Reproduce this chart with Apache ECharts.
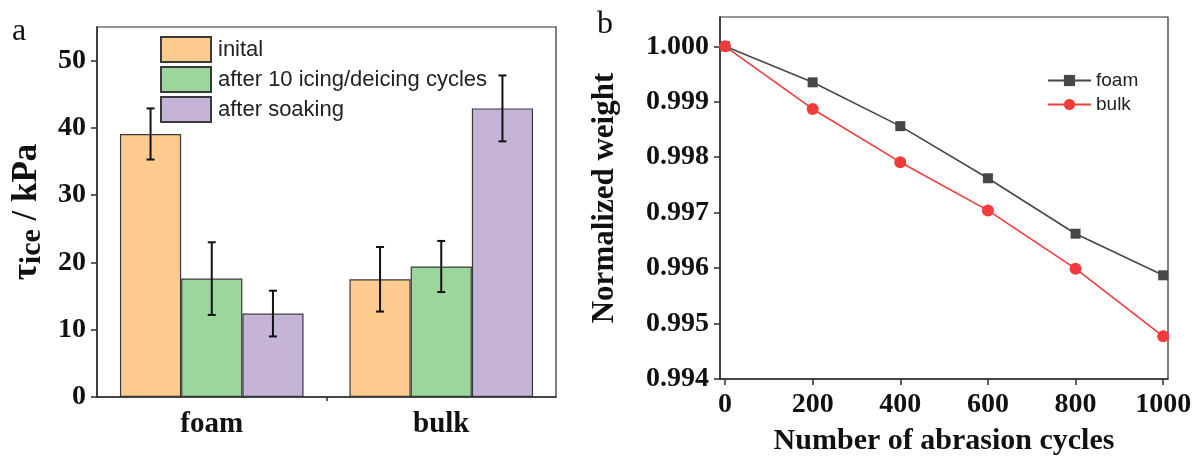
<!DOCTYPE html>
<html>
<head>
<meta charset="utf-8">
<script src="https://cdn.jsdelivr.net/npm/echarts@6/dist/echarts.min.js"></script>
<style>
  html, body { margin: 0; padding: 0; background: #fff; }
  #chart { width: 1196px; height: 462px; }
</style>
</head>
<body>
<div id="chart"></div>
<script>
// Panel a: ice adhesion strength (kPa), mean and error half-width
const categories = ['foam', 'bulk'];
const barSeriesNames = ['inital', 'after 10 icing/deicing cycles', 'after soaking'];
const initialVals = [39.1, 17.5];
const initialErr = [3.8, 4.8];
const cycledVals = [17.6, 19.4];
const cycledErr = [5.4, 3.8];
const soakedVals = [12.4, 42.9];
const soakedErr = [3.4, 4.9];
const tauTicks = [0, 10, 20, 30, 40, 50];

// Panel b: normalized weight vs abrasion cycles
const abrasionCycles = [0, 200, 400, 600, 800, 1000];
const foamWeight = [1.0000, 0.99935, 0.99856, 0.99762, 0.99662, 0.99587];
const bulkWeight = [1.0000, 0.99887, 0.99791, 0.99704, 0.99599, 0.99477];
const weightTicks = [0.994, 0.995, 0.996, 0.997, 0.998, 0.999, 1.000];

const SERIF = "'Liberation Serif', 'Times New Roman', serif";
const SANS = "'Liberation Sans', Arial, sans-serif";
const AXIS_COLOR = '#2b2b2b';
const barColors = ['#FDCB8E', '#9DD69C', '#C5B4D8'];

const chart = echarts.init(document.getElementById('chart'), null, { renderer: 'canvas' });

const barGroups = [
  { vals: initialVals, err: initialErr },
  { vals: cycledVals, err: cycledErr },
  { vals: soakedVals, err: soakedErr }
];

// error bar rows: [categoryIndex, seriesIndex, low, high]
const errRows = [];
barGroups.forEach((g, s) => {
  g.vals.forEach((v, c) => {
    errRows.push([c, s, v - g.err[c], v + g.err[c]]);
  });
});

function renderErrorBar(params, api) {
  const c = api.value(0);
  const s = api.value(1);
  const band = api.size([1, 0])[0];
  const bw = band * 0.8 / 3;
  const x = api.coord([c, 0])[0] + (s - 1) * bw;
  const yTop = api.coord([c, api.value(3)])[1];
  const yBot = api.coord([c, api.value(2)])[1];
  const cap = 4;
  const st = { stroke: '#111', lineWidth: 2 };
  return {
    type: 'group',
    children: [
      { type: 'line', shape: { x1: x, y1: yTop, x2: x, y2: yBot }, style: st },
      { type: 'line', shape: { x1: x - cap, y1: yTop, x2: x + cap, y2: yTop }, style: st },
      { type: 'line', shape: { x1: x - cap, y1: yBot, x2: x + cap, y2: yBot }, style: st }
    ]
  };
}

const tickLabelStyle = {
  color: '#111', fontFamily: SERIF, fontWeight: 'bold', fontSize: 27
};

const option = {
  backgroundColor: '#fff',
  animation: false,
  title: [
    { text: 'a', left: 12, top: 16, padding: 0, textStyle: { fontFamily: SERIF, fontWeight: 'normal', fontSize: 32, color: '#111' } },
    { text: 'b', left: 597, top: 9, padding: 0, textStyle: { fontFamily: SERIF, fontWeight: 'normal', fontSize: 32, color: '#111' } }
  ],
  legend: [
    {
      orient: 'vertical',
      left: 160, top: 36, padding: 0,
      itemWidth: 50, itemHeight: 25, itemGap: 3,
      icon: 'rect',
      data: barSeriesNames,
      textStyle: { fontFamily: SANS, fontSize: 22, color: '#222', padding: [0, 0, 0, 2] }
    },
    {
      orient: 'vertical',
      left: 1047, top: 71, padding: 0,
      itemWidth: 43, itemHeight: 14, itemGap: 5,
      data: ['foam', 'bulk'],
      textStyle: { fontFamily: SANS, fontSize: 19, color: '#222' }
    }
  ],
  grid: [
    { left: 97, top: 27, right: 640, bottom: 65, show: true, borderColor: AXIS_COLOR, borderWidth: 1.2, outerBoundsMode: 'none' },
    { left: 720, top: 17, right: 28, bottom: 83, show: true, borderColor: AXIS_COLOR, borderWidth: 1.2, outerBoundsMode: 'none' }
  ],
  xAxis: [
    {
      type: 'category', gridIndex: 0, data: categories,
      axisLine: { lineStyle: { color: AXIS_COLOR, width: 1.5 } },
      axisTick: { alignWithLabel: true, length: 6, inside: false, lineStyle: { color: AXIS_COLOR, width: 1.5 } },
      axisLabel: Object.assign({ margin: 13 }, tickLabelStyle, { fontSize: 29 }),
      splitLine: { show: false }
    },
    {
      // minor tick between the two groups
      type: 'value', gridIndex: 0, min: 0, max: 2, position: 'bottom',
      axisLine: { show: false },
      axisTick: { show: true, customValues: [1], length: 4, lineStyle: { color: AXIS_COLOR, width: 1.5 } },
      axisLabel: { show: false },
      splitLine: { show: false }
    },
    {
      type: 'value', gridIndex: 1, min: -11.5, max: 1011,
      name: 'Number of abrasion cycles', nameLocation: 'middle', nameGap: 47,
      nameTextStyle: { fontFamily: SERIF, fontWeight: 'bold', fontSize: 30, color: '#111' },
      axisLine: { onZero: false, lineStyle: { color: AXIS_COLOR, width: 1.5 } },
      axisTick: { customValues: abrasionCycles, length: 6, lineStyle: { color: AXIS_COLOR, width: 1.5 } },
      axisLabel: Object.assign({ customValues: abrasionCycles, margin: 12, formatter: v => String(v) }, tickLabelStyle, { fontSize: 28 }),
      splitLine: { show: false }
    }
  ],
  yAxis: [
    {
      type: 'value', gridIndex: 0, min: 0, max: 55,
      name: '{t|τ}{s|ice}{t| / kPa}', nameLocation: 'middle', nameRotate: 90, nameGap: 50,
      nameTextStyle: {
        rich: {
          t: { fontFamily: SERIF, fontWeight: 'bold', fontSize: 35, color: '#111', lineHeight: 40, verticalAlign: 'middle' },
          s: { fontFamily: SERIF, fontWeight: 'bold', fontSize: 30, color: '#111', lineHeight: 26, verticalAlign: 'bottom' }
        }
      },
      axisLine: { show: true, lineStyle: { color: AXIS_COLOR, width: 1.5 } },
      axisTick: { show: true, customValues: tauTicks, length: 6, lineStyle: { color: AXIS_COLOR, width: 1.5 } },
      axisLabel: Object.assign({ customValues: tauTicks, margin: 11 }, tickLabelStyle, { fontSize: 28 }),
      splitLine: { show: false }
    },
    {
      type: 'value', gridIndex: 1, min: 0.994, max: 1.000528,
      name: 'Normalized weight', nameLocation: 'middle', nameRotate: 90, nameGap: 100,
      nameTextStyle: { fontFamily: SERIF, fontWeight: 'bold', fontSize: 31, color: '#111' },
      axisLine: { show: true, onZero: false, lineStyle: { color: AXIS_COLOR, width: 1.5 } },
      axisTick: { show: true, customValues: weightTicks, length: 6, lineStyle: { color: AXIS_COLOR, width: 1.5 } },
      axisLabel: Object.assign({ customValues: weightTicks, margin: 11, formatter: v => v.toFixed(3) }, tickLabelStyle, { fontSize: 28 }),
      splitLine: { show: false }
    }
  ],
  series: [
    ...barGroups.map((g, i) => ({
      name: barSeriesNames[i],
      type: 'bar', xAxisIndex: 0, yAxisIndex: 0,
      data: g.vals,
      barGap: '0%', barCategoryGap: '20%',
      itemStyle: { color: barColors[i], borderColor: '#3a3a3a', borderWidth: 1.2 }
    })),
    {
      name: 'error', type: 'custom', xAxisIndex: 0, yAxisIndex: 0,
      data: errRows, encode: { x: 0, y: [2, 3] },
      renderItem: renderErrorBar, z: 5, silent: true
    },
    {
      name: 'foam', type: 'line', xAxisIndex: 2, yAxisIndex: 1,
      data: abrasionCycles.map((x, i) => [x, foamWeight[i]]),
      symbol: 'rect', symbolSize: 10,
      lineStyle: { color: '#474747', width: 1.6 },
      itemStyle: { color: '#474747' }
    },
    {
      name: 'bulk', type: 'line', xAxisIndex: 2, yAxisIndex: 1,
      data: abrasionCycles.map((x, i) => [x, bulkWeight[i]]),
      symbol: 'circle', symbolSize: 12,
      lineStyle: { color: '#F23B3B', width: 1.6 },
      itemStyle: { color: '#F23B3B' }
    }
  ]
};

chart.setOption(option);
</script>
</body>
</html>
